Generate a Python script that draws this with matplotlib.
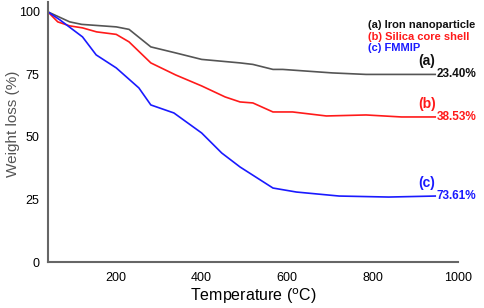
import numpy as np
import matplotlib.pyplot as plt

plt.rcParams['font.family'] = ['Liberation Sans', 'DejaVu Sans']

# TGA curves
temp_a = [40, 91, 119, 200, 230, 281, 339, 400, 490, 520, 567, 590, 706, 785, 855, 947]
wt_a = [100, 96, 95, 94, 93, 86, 83.6, 81, 79.6, 79, 77, 77, 75.6, 75, 75, 75]

temp_b = [40, 63, 91, 121, 154, 200, 230, 281, 339, 400, 455, 490, 520, 567, 613, 692, 785, 868, 947]
wt_b = [100, 96, 94.4, 93.6, 92, 91, 88, 79.6, 74.8, 70.4, 66, 64, 63.6, 60, 60, 58.4, 58.8, 58, 58]

temp_c = [40, 68, 121, 153, 200, 253, 281, 335, 400, 447, 490, 567, 622, 722, 838, 947]
wt_c = [100, 96.8, 90, 82.8, 77.6, 69.6, 62.8, 59.6, 51.6, 43.6, 38, 29.6, 28, 26.4, 26, 26.4]

names = ["(a) Iron nanoparticle", "(b) Silica core shell", "(c) FMMIP"]
tags = ["(a)", "(b)", "(c)"]
losses = ["23.40%", "38.53%", "73.61%"]
colors = ["#555555", "#ff1a1a", "#1a1aff"]
text_colors = ["#111111", "#ff1a1a", "#1a1aff"]

fig = plt.figure(figsize=(4.84, 3.08), dpi=100)
ax = fig.add_axes([0.099, 0.149, 0.847, 0.845])

series = [(temp_a, wt_a), (temp_b, wt_b), (temp_c, wt_c)]
for (t, w), c, tc, tag, loss in zip(series, colors, text_colors, tags, losses):
    ax.plot(t, w, color=c, lw=1.2)
    ax.text(t[-1] + 3, w[-1], loss, color=tc, fontsize=8.5, fontweight='bold',
            va='center', ha='left')
    ax.text(t[-1] - 20, w[-1] + 2.5, tag, color=tc, fontsize=10, fontweight='bold',
            va='bottom', ha='center')

for i, (n, tc) in enumerate(zip(names, text_colors)):
    ax.text(0.78, 0.91 - i * 0.044, n, color=tc, fontsize=8, fontweight='bold',
            transform=ax.transAxes, va='center', ha='left')

ax.set_xlim(40, 1000)
ax.set_ylim(0, 104)
ax.set_xticks([200, 400, 600, 800, 1000])
ax.set_yticks([0, 25, 50, 75, 100])
ax.tick_params(length=0, labelsize=9)
ax.tick_params(axis='x', pad=7)
ax.tick_params(axis='y', pad=6)
for s in ['top', 'right']:
    ax.spines[s].set_visible(False)
for s in ['left', 'bottom']:
    ax.spines[s].set_color('#666666')
    ax.spines[s].set_linewidth(1.5)

ax.set_xlabel("Temperature ($^{\\mathrm{o}}$C)", fontsize=11.5)
ax.xaxis.set_label_coords(0.5, -0.095)
ax.set_ylabel("Weight loss (%)", fontsize=11, color='#555555')
ax.yaxis.set_label_coords(-0.068, 0.53)

fig.savefig("out.png", dpi=100)
